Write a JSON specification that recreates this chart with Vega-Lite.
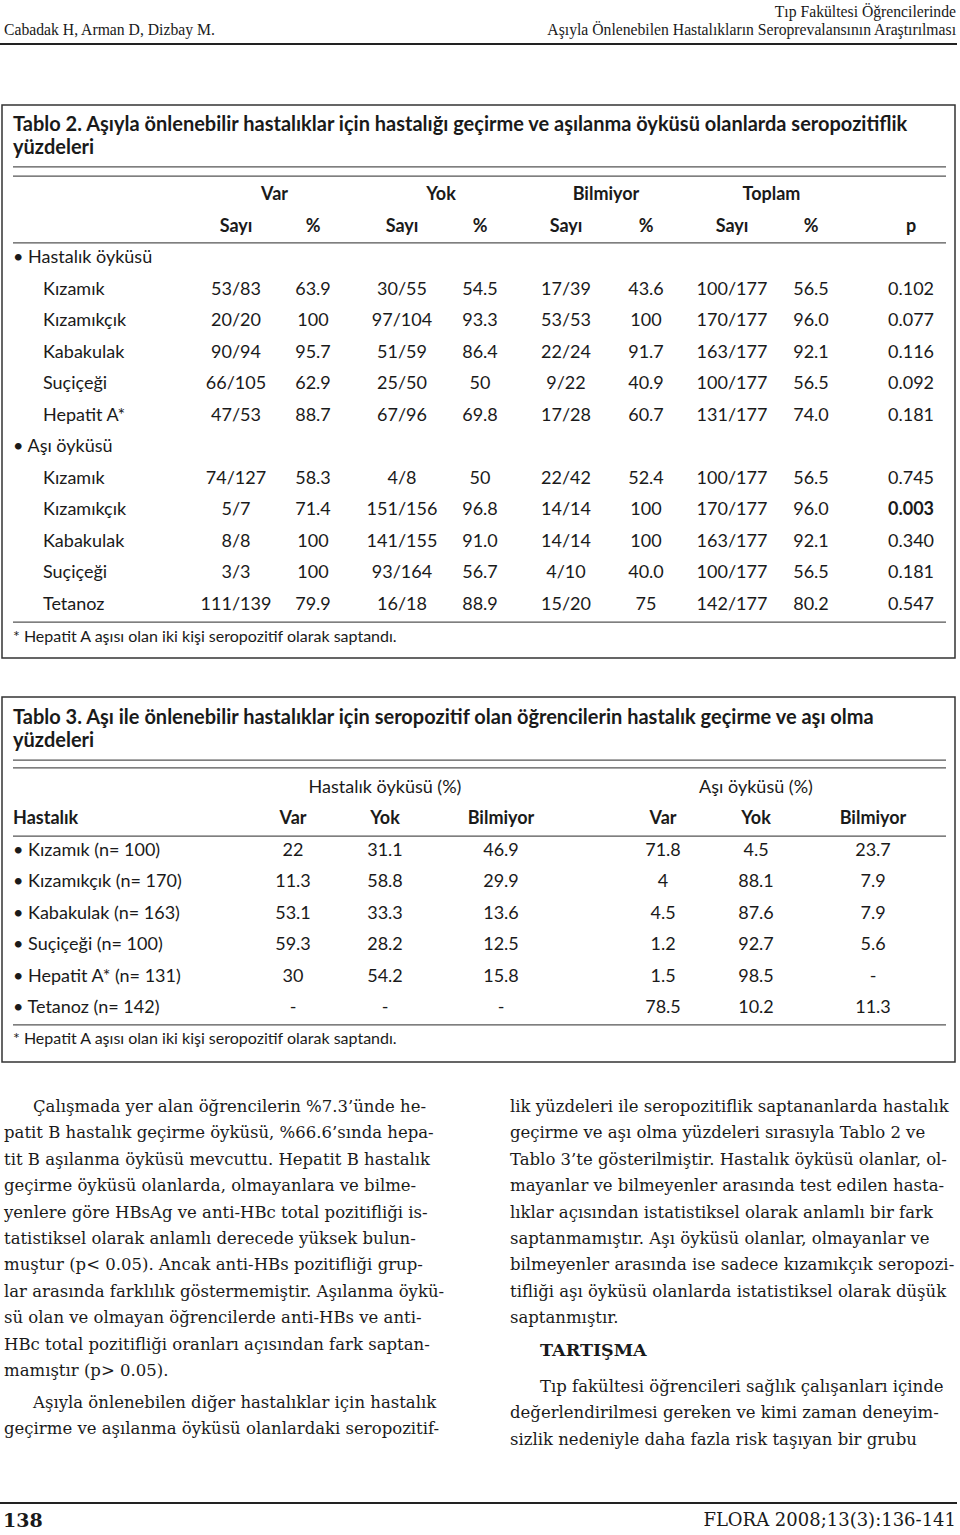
{
  "$schema": "https://vega.github.io/schema/vega-lite/v6.json",
  "width": 960,
  "height": 1535,
  "padding": 0,
  "autosize": {"type": "none"},
  "background": "white",
  "config": {"view": {"stroke": null}},
  "resolve": {"scale": {"x": "independent", "y": "independent"}},
  "layer": [
    {
      "data": {"values": [
        {"r": 1, "s": 0, "t": "Cabadak H, Arman D, Dizbay M."},
        {"r": 0, "s": 1, "t": "Tıp Fakültesi Öğrencilerinde"},
        {"r": 1, "s": 1, "t": "Aşıyla Önlenebilen Hastalıkların Seroprevalansının Araştırılması"}
      ]},
      "encoding": {
        "x": {"field": "s", "type": "quantitative", "scale": {"domain": [0, 1], "range": [0, 956], "nice": false, "zero": false}, "axis": null},
        "y": {"field": "r", "type": "quantitative", "scale": {"domain": [0, 1], "range": [12, 30], "nice": false, "zero": false}, "axis": null},
        "text": {"field": "t", "type": "nominal"}
      },
      "layer": [
        {"transform": [{"filter": "datum.s == 0"}], "mark": {"type": "text", "font": "Liberation Serif", "fontSize": 15.7, "align": "left", "baseline": "middle", "dx": 4, "color": "#1a1a1a"}},
        {"transform": [{"filter": "datum.s == 1"}], "mark": {"type": "text", "font": "Liberation Serif", "fontSize": 15.7, "align": "right", "baseline": "middle", "color": "#1a1a1a"}}
      ]
    },
    {
      "data": {"values": [{"p": "header"}, {"p": "footer"}]},
      "mark": {"type": "rule", "color": "#222", "strokeWidth": 2.2},
      "encoding": {
        "x": {"datum": 0, "type": "quantitative", "scale": {"domain": [0, 1], "range": [0, 957], "nice": false, "zero": false}, "axis": null},
        "x2": {"datum": 1},
        "y": {"field": "p", "type": "nominal", "scale": {"type": "point", "domain": ["header", "footer"], "range": [44, 1503], "padding": 0}, "axis": null}
      }
    },
    {
      "data": {"values": [{"box": "Tablo 2"}]},
      "mark": {"type": "rect", "filled": false, "color": "#333", "strokeWidth": 1.5},
      "encoding": {
        "x": {"datum": 0, "type": "quantitative", "scale": {"domain": [0, 1], "range": [2, 955], "nice": false, "zero": false}, "axis": null},
        "x2": {"datum": 1},
        "y": {"datum": 0, "type": "quantitative", "scale": {"domain": [0, 1], "range": [105, 658], "nice": false, "zero": false}, "axis": null},
        "y2": {"datum": 1}
      }
    },
    {
      "data": {"values": [{"r": -0.89}, {"r": -0.6}, {"r": 1.52}, {"r": 13.54}]},
      "mark": {"type": "rule", "color": "#555", "strokeWidth": 1.2},
      "encoding": {
        "x": {"datum": 0, "type": "quantitative", "scale": {"domain": [0, 1], "range": [13, 946], "nice": false, "zero": false}, "axis": null},
        "x2": {"datum": 1},
        "y": {"field": "r", "type": "quantitative", "scale": {"domain": [0, 13], "range": [195, 605], "nice": false, "zero": false}, "axis": null}
      }
    },
    {
      "data": {"values": [
        {"r": -2.22, "v": 0, "k": "cap", "t": "Tablo 2. Aşıyla önlenebilir hastalıklar için hastalığı geçirme ve aşılanma öyküsü olanlarda seropozitiflik"},
        {"r": -1.49, "v": 0, "k": "cap", "t": "yüzdeleri"},
        {"r": 2, "v": 0, "k": "lab", "t": "• Hastalık öyküsü"},
        {"r": 3, "v": 1, "k": "lab", "t": "Kızamık"},
        {"r": 4, "v": 1, "k": "lab", "t": "Kızamıkçık"},
        {"r": 5, "v": 1, "k": "lab", "t": "Kabakulak"},
        {"r": 6, "v": 1, "k": "lab", "t": "Suçiçeği"},
        {"r": 7, "v": 1, "k": "lab", "t": "Hepatit A*"},
        {"r": 8, "v": 0, "k": "lab", "t": "• Aşı öyküsü"},
        {"r": 9, "v": 1, "k": "lab", "t": "Kızamık"},
        {"r": 10, "v": 1, "k": "lab", "t": "Kızamıkçık"},
        {"r": 11, "v": 1, "k": "lab", "t": "Kabakulak"},
        {"r": 12, "v": 1, "k": "lab", "t": "Suçiçeği"},
        {"r": 13, "v": 1, "k": "lab", "t": "Tetanoz"},
        {"r": 14, "v": 0, "k": "fn", "t": "* Hepatit A aşısı olan iki kişi seropozitif olarak saptandı."}
      ]},
      "encoding": {
        "x": {"field": "v", "type": "quantitative", "scale": {"domain": [0, 1], "range": [13, 43], "nice": false, "zero": false}, "axis": null},
        "y": {"field": "r", "type": "quantitative", "scale": {"domain": [0, 13], "range": [195, 605], "nice": false, "zero": false}, "axis": null},
        "text": {"field": "t", "type": "nominal"}
      },
      "layer": [
        {"transform": [{"filter": "datum.k == 'cap'"}], "mark": {"type": "text", "font": "Lato", "fontSize": 20, "fontWeight": "bold", "align": "left", "baseline": "middle", "color": "#1a1a1a"}},
        {"transform": [{"filter": "datum.k == 'lab'"}], "mark": {"type": "text", "font": "Lato", "fontSize": 18, "align": "left", "baseline": "middle", "color": "#1a1a1a"}},
        {"transform": [{"filter": "datum.k == 'fn'"}], "mark": {"type": "text", "font": "Lato", "fontSize": 16, "align": "left", "baseline": "middle", "color": "#1a1a1a"}}
      ]
    },
    {
      "data": {"values": [
        {"r": 0, "c": 0.5, "t": "Var", "b": 1}, {"r": 0, "c": 2.5, "t": "Yok", "b": 1}, {"r": 0, "c": 4.5, "t": "Bilmiyor", "b": 1}, {"r": 0, "c": 6.5, "t": "Toplam", "b": 1},
        {"r": 1, "c": 0, "t": "Sayı", "b": 1}, {"r": 1, "c": 1, "t": "%", "b": 1}, {"r": 1, "c": 2, "t": "Sayı", "b": 1}, {"r": 1, "c": 3, "t": "%", "b": 1}, {"r": 1, "c": 4, "t": "Sayı", "b": 1}, {"r": 1, "c": 5, "t": "%", "b": 1}, {"r": 1, "c": 6, "t": "Sayı", "b": 1}, {"r": 1, "c": 7, "t": "%", "b": 1}, {"r": 1, "c": 8, "t": "p", "b": 1},
        {"r": 3, "c": 0, "t": "53/83"}, {"r": 3, "c": 1, "t": "63.9"}, {"r": 3, "c": 2, "t": "30/55"}, {"r": 3, "c": 3, "t": "54.5"}, {"r": 3, "c": 4, "t": "17/39"}, {"r": 3, "c": 5, "t": "43.6"}, {"r": 3, "c": 6, "t": "100/177"}, {"r": 3, "c": 7, "t": "56.5"}, {"r": 3, "c": 8, "t": "0.102"},
        {"r": 4, "c": 0, "t": "20/20"}, {"r": 4, "c": 1, "t": "100"}, {"r": 4, "c": 2, "t": "97/104"}, {"r": 4, "c": 3, "t": "93.3"}, {"r": 4, "c": 4, "t": "53/53"}, {"r": 4, "c": 5, "t": "100"}, {"r": 4, "c": 6, "t": "170/177"}, {"r": 4, "c": 7, "t": "96.0"}, {"r": 4, "c": 8, "t": "0.077"},
        {"r": 5, "c": 0, "t": "90/94"}, {"r": 5, "c": 1, "t": "95.7"}, {"r": 5, "c": 2, "t": "51/59"}, {"r": 5, "c": 3, "t": "86.4"}, {"r": 5, "c": 4, "t": "22/24"}, {"r": 5, "c": 5, "t": "91.7"}, {"r": 5, "c": 6, "t": "163/177"}, {"r": 5, "c": 7, "t": "92.1"}, {"r": 5, "c": 8, "t": "0.116"},
        {"r": 6, "c": 0, "t": "66/105"}, {"r": 6, "c": 1, "t": "62.9"}, {"r": 6, "c": 2, "t": "25/50"}, {"r": 6, "c": 3, "t": "50"}, {"r": 6, "c": 4, "t": "9/22"}, {"r": 6, "c": 5, "t": "40.9"}, {"r": 6, "c": 6, "t": "100/177"}, {"r": 6, "c": 7, "t": "56.5"}, {"r": 6, "c": 8, "t": "0.092"},
        {"r": 7, "c": 0, "t": "47/53"}, {"r": 7, "c": 1, "t": "88.7"}, {"r": 7, "c": 2, "t": "67/96"}, {"r": 7, "c": 3, "t": "69.8"}, {"r": 7, "c": 4, "t": "17/28"}, {"r": 7, "c": 5, "t": "60.7"}, {"r": 7, "c": 6, "t": "131/177"}, {"r": 7, "c": 7, "t": "74.0"}, {"r": 7, "c": 8, "t": "0.181"},
        {"r": 9, "c": 0, "t": "74/127"}, {"r": 9, "c": 1, "t": "58.3"}, {"r": 9, "c": 2, "t": "4/8"}, {"r": 9, "c": 3, "t": "50"}, {"r": 9, "c": 4, "t": "22/42"}, {"r": 9, "c": 5, "t": "52.4"}, {"r": 9, "c": 6, "t": "100/177"}, {"r": 9, "c": 7, "t": "56.5"}, {"r": 9, "c": 8, "t": "0.745"},
        {"r": 10, "c": 0, "t": "5/7"}, {"r": 10, "c": 1, "t": "71.4"}, {"r": 10, "c": 2, "t": "151/156"}, {"r": 10, "c": 3, "t": "96.8"}, {"r": 10, "c": 4, "t": "14/14"}, {"r": 10, "c": 5, "t": "100"}, {"r": 10, "c": 6, "t": "170/177"}, {"r": 10, "c": 7, "t": "96.0"}, {"r": 10, "c": 8, "t": "0.003", "b": 1},
        {"r": 11, "c": 0, "t": "8/8"}, {"r": 11, "c": 1, "t": "100"}, {"r": 11, "c": 2, "t": "141/155"}, {"r": 11, "c": 3, "t": "91.0"}, {"r": 11, "c": 4, "t": "14/14"}, {"r": 11, "c": 5, "t": "100"}, {"r": 11, "c": 6, "t": "163/177"}, {"r": 11, "c": 7, "t": "92.1"}, {"r": 11, "c": 8, "t": "0.340"},
        {"r": 12, "c": 0, "t": "3/3"}, {"r": 12, "c": 1, "t": "100"}, {"r": 12, "c": 2, "t": "93/164"}, {"r": 12, "c": 3, "t": "56.7"}, {"r": 12, "c": 4, "t": "4/10"}, {"r": 12, "c": 5, "t": "40.0"}, {"r": 12, "c": 6, "t": "100/177"}, {"r": 12, "c": 7, "t": "56.5"}, {"r": 12, "c": 8, "t": "0.181"},
        {"r": 13, "c": 0, "t": "111/139"}, {"r": 13, "c": 1, "t": "79.9"}, {"r": 13, "c": 2, "t": "16/18"}, {"r": 13, "c": 3, "t": "88.9"}, {"r": 13, "c": 4, "t": "15/20"}, {"r": 13, "c": 5, "t": "75"}, {"r": 13, "c": 6, "t": "142/177"}, {"r": 13, "c": 7, "t": "80.2"}, {"r": 13, "c": 8, "t": "0.547"}
      ]},
      "encoding": {
        "x": {"field": "c", "type": "quantitative", "scale": {"domain": [0, 1, 2, 3, 4, 5, 6, 7, 8], "range": [236, 313, 402, 480, 566, 646, 732, 811, 911], "nice": false, "zero": false}, "axis": null},
        "y": {"field": "r", "type": "quantitative", "scale": {"domain": [0, 13], "range": [195, 605], "nice": false, "zero": false}, "axis": null},
        "text": {"field": "t", "type": "nominal"}
      },
      "layer": [
        {"transform": [{"filter": "datum.b != 1"}], "mark": {"type": "text", "font": "Lato", "fontSize": 18, "align": "center", "baseline": "middle", "color": "#1a1a1a"}},
        {"transform": [{"filter": "datum.b == 1"}], "mark": {"type": "text", "font": "Lato", "fontSize": 18, "fontWeight": "bold", "align": "center", "baseline": "middle", "color": "#1a1a1a"}}
      ]
    },
    {
      "data": {"values": [{"box": "Tablo 3"}]},
      "mark": {"type": "rect", "filled": false, "color": "#333", "strokeWidth": 1.5},
      "encoding": {
        "x": {"datum": 0, "type": "quantitative", "scale": {"domain": [0, 1], "range": [2, 955], "nice": false, "zero": false}, "axis": null},
        "x2": {"datum": 1},
        "y": {"datum": 0, "type": "quantitative", "scale": {"domain": [0, 1], "range": [697, 1062], "nice": false, "zero": false}, "axis": null},
        "y2": {"datum": 1}
      }
    },
    {
      "data": {"values": [{"r": -0.89}, {"r": -0.64}, {"r": 1.53}, {"r": 7.54}]},
      "mark": {"type": "rule", "color": "#555", "strokeWidth": 1.2},
      "encoding": {
        "x": {"datum": 0, "type": "quantitative", "scale": {"domain": [0, 1], "range": [13, 946], "nice": false, "zero": false}, "axis": null},
        "x2": {"datum": 1},
        "y": {"field": "r", "type": "quantitative", "scale": {"domain": [0, 7], "range": [788, 1008], "nice": false, "zero": false}, "axis": null}
      }
    },
    {
      "data": {"values": [
        {"r": -2.23, "k": "cap", "t": "Tablo 3. Aşı ile önlenebilir hastalıklar için seropozitif olan öğrencilerin hastalık geçirme ve aşı olma"},
        {"r": -1.5, "k": "cap", "t": "yüzdeleri"},
        {"r": 1, "k": "hdr", "t": "Hastalık"},
        {"r": 2, "k": "lab", "t": "• Kızamık (n= 100)"},
        {"r": 3, "k": "lab", "t": "• Kızamıkçık (n= 170)"},
        {"r": 4, "k": "lab", "t": "• Kabakulak (n= 163)"},
        {"r": 5, "k": "lab", "t": "• Suçiçeği (n= 100)"},
        {"r": 6, "k": "lab", "t": "• Hepatit A* (n= 131)"},
        {"r": 7, "k": "lab", "t": "• Tetanoz (n= 142)"},
        {"r": 8, "k": "fn", "t": "* Hepatit A aşısı olan iki kişi seropozitif olarak saptandı."}
      ]},
      "encoding": {
        "x": {"datum": 0, "type": "quantitative", "scale": {"domain": [0, 1], "range": [13, 43], "nice": false, "zero": false}, "axis": null},
        "y": {"field": "r", "type": "quantitative", "scale": {"domain": [0, 7], "range": [788, 1008], "nice": false, "zero": false}, "axis": null},
        "text": {"field": "t", "type": "nominal"}
      },
      "layer": [
        {"transform": [{"filter": "datum.k == 'cap'"}], "mark": {"type": "text", "font": "Lato", "fontSize": 20, "fontWeight": "bold", "align": "left", "baseline": "middle", "color": "#1a1a1a"}},
        {"transform": [{"filter": "datum.k == 'hdr'"}], "mark": {"type": "text", "font": "Lato", "fontSize": 18, "fontWeight": "bold", "align": "left", "baseline": "middle", "color": "#1a1a1a"}},
        {"transform": [{"filter": "datum.k == 'lab'"}], "mark": {"type": "text", "font": "Lato", "fontSize": 18, "align": "left", "baseline": "middle", "color": "#1a1a1a"}},
        {"transform": [{"filter": "datum.k == 'fn'"}], "mark": {"type": "text", "font": "Lato", "fontSize": 16, "align": "left", "baseline": "middle", "color": "#1a1a1a"}}
      ]
    },
    {
      "data": {"values": [
        {"r": 0, "c": 1, "t": "Hastalık öyküsü (%)"}, {"r": 0, "c": 4, "t": "Aşı öyküsü (%)"},
        {"r": 1, "c": 0, "t": "Var", "b": 1}, {"r": 1, "c": 1, "t": "Yok", "b": 1}, {"r": 1, "c": 2, "t": "Bilmiyor", "b": 1}, {"r": 1, "c": 3, "t": "Var", "b": 1}, {"r": 1, "c": 4, "t": "Yok", "b": 1}, {"r": 1, "c": 5, "t": "Bilmiyor", "b": 1},
        {"r": 2, "c": 0, "t": "22"}, {"r": 2, "c": 1, "t": "31.1"}, {"r": 2, "c": 2, "t": "46.9"}, {"r": 2, "c": 3, "t": "71.8"}, {"r": 2, "c": 4, "t": "4.5"}, {"r": 2, "c": 5, "t": "23.7"},
        {"r": 3, "c": 0, "t": "11.3"}, {"r": 3, "c": 1, "t": "58.8"}, {"r": 3, "c": 2, "t": "29.9"}, {"r": 3, "c": 3, "t": "4"}, {"r": 3, "c": 4, "t": "88.1"}, {"r": 3, "c": 5, "t": "7.9"},
        {"r": 4, "c": 0, "t": "53.1"}, {"r": 4, "c": 1, "t": "33.3"}, {"r": 4, "c": 2, "t": "13.6"}, {"r": 4, "c": 3, "t": "4.5"}, {"r": 4, "c": 4, "t": "87.6"}, {"r": 4, "c": 5, "t": "7.9"},
        {"r": 5, "c": 0, "t": "59.3"}, {"r": 5, "c": 1, "t": "28.2"}, {"r": 5, "c": 2, "t": "12.5"}, {"r": 5, "c": 3, "t": "1.2"}, {"r": 5, "c": 4, "t": "92.7"}, {"r": 5, "c": 5, "t": "5.6"},
        {"r": 6, "c": 0, "t": "30"}, {"r": 6, "c": 1, "t": "54.2"}, {"r": 6, "c": 2, "t": "15.8"}, {"r": 6, "c": 3, "t": "1.5"}, {"r": 6, "c": 4, "t": "98.5"}, {"r": 6, "c": 5, "t": "-"},
        {"r": 7, "c": 0, "t": "-"}, {"r": 7, "c": 1, "t": "-"}, {"r": 7, "c": 2, "t": "-"}, {"r": 7, "c": 3, "t": "78.5"}, {"r": 7, "c": 4, "t": "10.2"}, {"r": 7, "c": 5, "t": "11.3"}
      ]},
      "encoding": {
        "x": {"field": "c", "type": "quantitative", "scale": {"domain": [0, 1, 2, 3, 4, 5], "range": [293, 385, 501, 663, 756, 873], "nice": false, "zero": false}, "axis": null},
        "y": {"field": "r", "type": "quantitative", "scale": {"domain": [0, 7], "range": [788, 1008], "nice": false, "zero": false}, "axis": null},
        "text": {"field": "t", "type": "nominal"}
      },
      "layer": [
        {"transform": [{"filter": "datum.b != 1"}], "mark": {"type": "text", "font": "Lato", "fontSize": 18, "align": "center", "baseline": "middle", "color": "#1a1a1a"}},
        {"transform": [{"filter": "datum.b == 1"}], "mark": {"type": "text", "font": "Lato", "fontSize": 18, "fontWeight": "bold", "align": "center", "baseline": "middle", "color": "#1a1a1a"}}
      ]
    },
    {
      "data": {"values": [
        {"l": 0, "s": 1, "t": "Çalışmada yer alan öğrencilerin %7.3’ünde he-"},
        {"l": 1, "s": 0, "t": "patit B hastalık geçirme öyküsü, %66.6’sında hepa-"},
        {"l": 2, "s": 0, "t": "tit B aşılanma öyküsü mevcuttu. Hepatit B hastalık"},
        {"l": 3, "s": 0, "t": "geçirme öyküsü olanlarda, olmayanlara ve bilme-"},
        {"l": 4, "s": 0, "t": "yenlere göre HBsAg ve anti-HBc total pozitifliği is-"},
        {"l": 5, "s": 0, "t": "tatistiksel olarak anlamlı derecede yüksek bulun-"},
        {"l": 6, "s": 0, "t": "muştur (p< 0.05). Ancak anti-HBs pozitifliği grup-"},
        {"l": 7, "s": 0, "t": "lar arasında farklılık göstermemiştir. Aşılanma öykü-"},
        {"l": 8, "s": 0, "t": "sü olan ve olmayan öğrencilerde anti-HBs ve anti-"},
        {"l": 9, "s": 0, "t": "HBc total pozitifliği oranları açısından fark saptan-"},
        {"l": 10, "s": 0, "t": "mamıştır (p> 0.05)."},
        {"l": 11.21, "s": 1, "t": "Aşıyla önlenebilen diğer hastalıklar için hastalık"},
        {"l": 12.2, "s": 0, "t": "geçirme ve aşılanma öyküsü olanlardaki seropozitif-"},
        {"l": 0, "s": 2, "t": "lik yüzdeleri ile seropozitiflik saptananlarda hastalık"},
        {"l": 1, "s": 2, "t": "geçirme ve aşı olma yüzdeleri sırasıyla Tablo 2 ve"},
        {"l": 2, "s": 2, "t": "Tablo 3’te gösterilmiştir. Hastalık öyküsü olanlar, ol-"},
        {"l": 3, "s": 2, "t": "mayanlar ve bilmeyenler arasında test edilen hasta-"},
        {"l": 4, "s": 2, "t": "lıklar açısından istatistiksel olarak anlamlı bir fark"},
        {"l": 5, "s": 2, "t": "saptanmamıştır. Aşı öyküsü olanlar, olmayanlar ve"},
        {"l": 6, "s": 2, "t": "bilmeyenler arasında ise sadece kızamıkçık seropozi-"},
        {"l": 7, "s": 2, "t": "tifliği aşı öyküsü olanlarda istatistiksel olarak düşük"},
        {"l": 8, "s": 2, "t": "saptanmıştır."},
        {"l": 9.24, "s": 3, "t": "TARTIŞMA", "b": 1},
        {"l": 10.6, "s": 3, "t": "Tıp fakültesi öğrencileri sağlık çalışanları içinde"},
        {"l": 11.6, "s": 2, "t": "değerlendirilmesi gereken ve kimi zaman deneyim-"},
        {"l": 12.6, "s": 2, "t": "sizlik nedeniyle daha fazla risk taşıyan bir grubu"}
      ]},
      "encoding": {
        "x": {"field": "s", "type": "quantitative", "scale": {"domain": [0, 1, 2, 3], "range": [4, 33, 510, 540], "nice": false, "zero": false}, "axis": null},
        "y": {"field": "l", "type": "quantitative", "scale": {"domain": [0, 10], "range": [1107, 1371], "nice": false, "zero": false}, "axis": null},
        "text": {"field": "t", "type": "nominal"}
      },
      "layer": [
        {"transform": [{"filter": "datum.b != 1"}], "mark": {"type": "text", "font": "DejaVu Serif", "fontSize": 16.5, "align": "left", "baseline": "middle", "color": "#1a1a1a"}},
        {"transform": [{"filter": "datum.b == 1"}], "mark": {"type": "text", "font": "DejaVu Serif", "fontSize": 17.5, "fontWeight": "bold", "align": "left", "baseline": "middle", "color": "#1a1a1a"}}
      ]
    },
    {
      "data": {"values": [
        {"r": 1, "s": 0, "t": "138"},
        {"r": 1, "s": 1, "t": "FLORA 2008;13(3):136-141"}
      ]},
      "encoding": {
        "x": {"field": "s", "type": "quantitative", "scale": {"domain": [0, 1], "range": [0, 956], "nice": false, "zero": false}, "axis": null},
        "y": {"field": "r", "type": "quantitative", "scale": {"domain": [0, 1], "range": [1503, 1521], "nice": false, "zero": false}, "axis": null},
        "text": {"field": "t", "type": "nominal"}
      },
      "layer": [
        {"transform": [{"filter": "datum.s == 0"}], "mark": {"type": "text", "font": "DejaVu Serif", "fontSize": 19, "fontWeight": "bold", "align": "left", "baseline": "middle", "dx": 3, "color": "#1a1a1a"}},
        {"transform": [{"filter": "datum.s == 1"}], "mark": {"type": "text", "font": "DejaVu Serif", "fontSize": 18, "align": "right", "baseline": "middle", "color": "#1a1a1a"}}
      ]
    }
  ]
}
